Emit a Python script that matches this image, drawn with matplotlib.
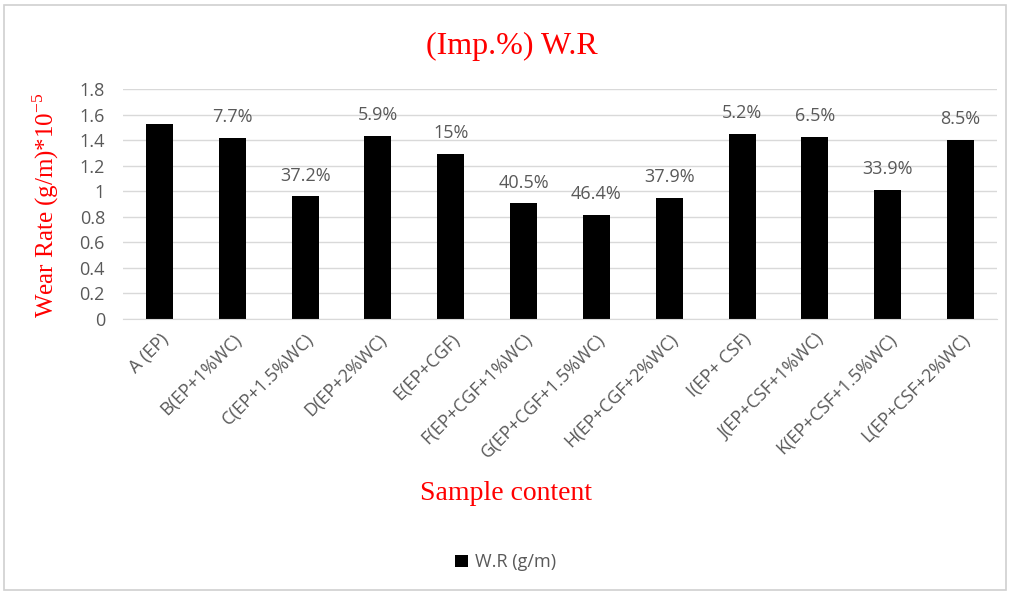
from matplotlib import pyplot as plt
from matplotlib.patches import Rectangle

# data
samples = ["A (EP)", "B(EP+1%WC)", "C(EP+1.5%WC)", "D(EP+2%WC)", "E(EP+CGF)",
           "F(EP+CGF+1%WC)", "G(EP+CGF+1.5%WC)", "H(EP+CGF+2%WC)", "I(EP+ CSF)",
           "J(EP+CSF+1%WC)", "K(EP+CSF+1.5%WC)", "L(EP+CSF+2%WC)"]
wear_rate = [1.525, 1.42, 0.96, 1.436, 1.294, 0.905, 0.816, 0.95, 1.446, 1.428, 1.013, 1.40]
improvement = ["", "7.7%", "37.2%", "5.9%", "15%", "40.5%", "46.4%", "37.9%",
               "5.2%", "6.5%", "33.9%", "8.5%"]
y_ticks = [0, 0.2, 0.4, 0.6, 0.8, 1, 1.2, 1.4, 1.6, 1.8]

grey = "#595959"
serif = "Liberation Serif"
sans = "Open Sans"

fig = plt.figure(figsize=(10.11, 5.95), dpi=100)
# light frame around the whole chart
fig.patches.append(Rectangle((0.004, 0.008), 0.991, 0.983, transform=fig.transFigure,
                             fill=False, edgecolor="#d0d0d0", linewidth=1.2))

ax = fig.add_axes([0.1217, 0.4638, 0.8645, 0.3866])
x = range(len(samples))
bars = ax.bar(x, wear_rate, width=0.37, color="black", label="W.R (g/m)", zorder=3)

# improvement labels above the bars
for rect, txt in zip(bars, improvement):
    if txt:
        ax.annotate(txt, (rect.get_x() + rect.get_width() / 2, rect.get_height()),
                    xytext=(0, 15), textcoords="offset points", ha="center", va="center",
                    color=grey, fontsize=13, family=sans)

ax.set_xlim(-0.5, len(samples) - 0.5)
ax.set_ylim(0, 1.8)
ax.set_yticks(y_ticks)
ax.set_yticklabels([f"{v:g}" for v in y_ticks], color=grey, fontsize=13, family=sans)
ax.set_xticks(list(x))
ax.set_xticklabels(samples, rotation=45, ha="right", rotation_mode="anchor",
                   color=grey, fontsize=13, family=sans)
ax.tick_params(axis="y", length=0, pad=13)
ax.tick_params(axis="x", length=0, pad=8)
ax.yaxis.grid(True, color="#d9d9d9", linewidth=1, zorder=0)
for side in ["top", "right", "left"]:
    ax.spines[side].set_visible(False)
ax.spines["bottom"].set_color("#d9d9d9")
ax.spines["bottom"].set_zorder(4)

## titles in red serif
fig.text(0.506, 0.922, "(Imp.%) W.R", color="red", fontsize=23, family=serif,
         ha="center", va="center")
fig.text(0.045, 0.655, r"Wear Rate (g/m)*10$^{\mathregular{-5}}$", color="red", fontsize=18,
         family=serif, rotation=90, ha="center", va="center")
fig.text(0.5, 0.17, "Sample content", color="red", fontsize=20, family=serif,
         ha="center", va="center")

leg = fig.legend(loc="center", bbox_to_anchor=(0.5, 0.055), frameon=False,
                 handlelength=0.7, handleheight=0.7, handletextpad=0.4,
                 prop={"family": sans, "size": 13})
for t in leg.get_texts():
    t.set_color(grey)

plt.savefig("out.png", dpi=100)
